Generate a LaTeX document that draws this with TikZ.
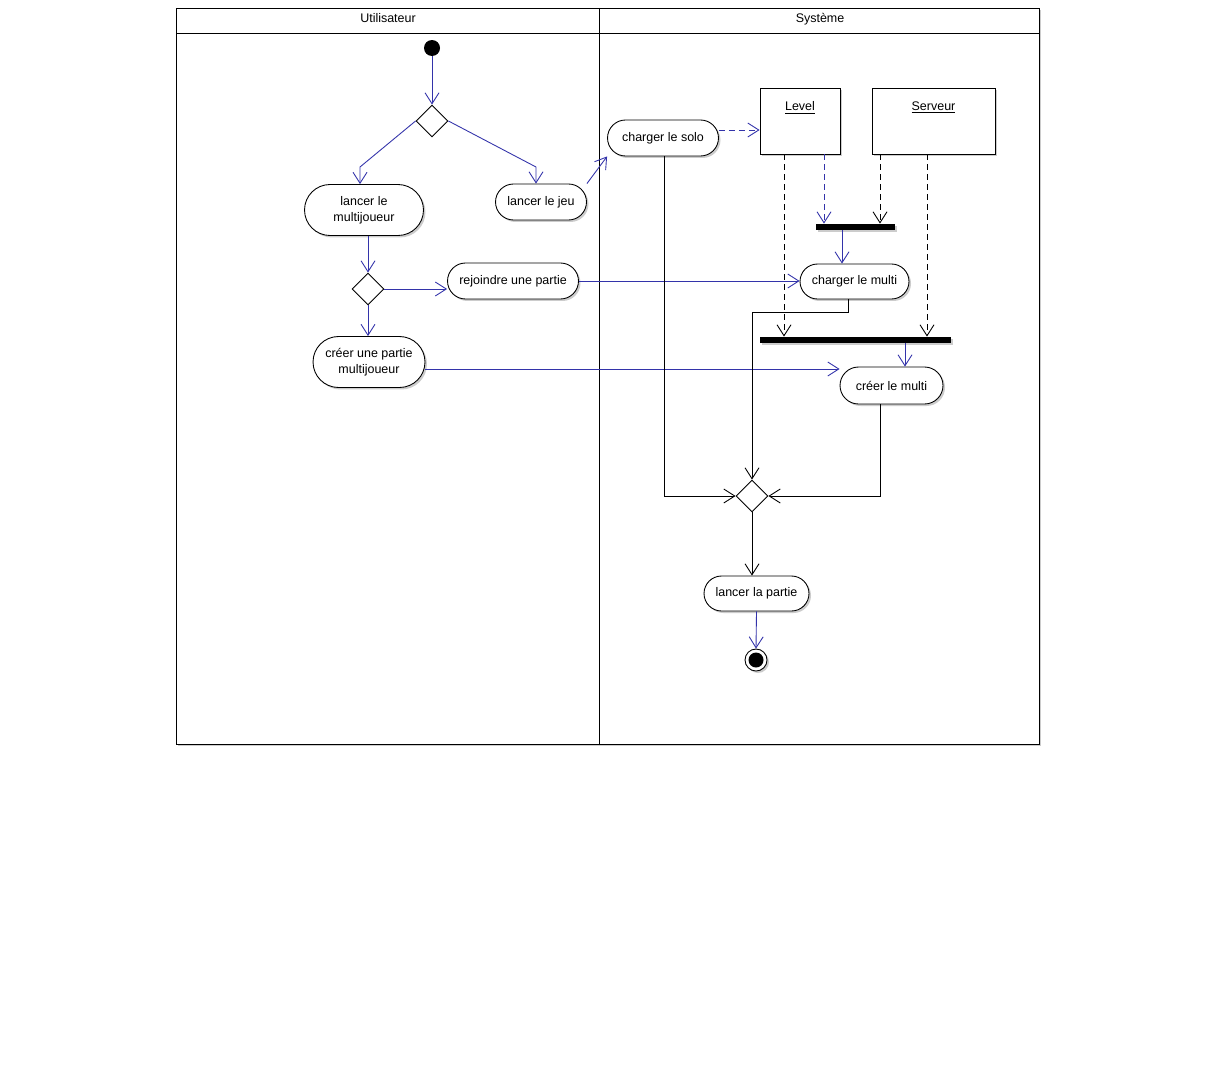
\documentclass[tikz,border=0pt]{standalone}
\usepackage{fontspec}
\setmainfont{Liberation Sans}
\usetikzlibrary{arrows.meta,shapes.geometric,shapes.misc,shadows}
\definecolor{flowblue}{RGB}{51,51,170}

\begin{document}
\begin{tikzpicture}[x=0.02cm, y=-0.02cm, line width=0.5pt,
    font=\fontsize{7.1}{9}\selectfont,
    boxshadow/.style={drop shadow={shadow xshift=0.04cm, shadow yshift=-0.04cm, fill=black!20, opacity=1}},
    act/.style={rounded rectangle, draw, fill=white, align=center, inner sep=0pt, boxshadow},
    obj/.style={draw, fill=white, inner sep=0pt, boxshadow},
    bar/.style={fill=black, inner sep=0pt, minimum height=0.12cm, boxshadow},
    decision/.style={diamond, draw, fill=white, inner sep=0pt, minimum size=0.64cm},
    flow/.style={draw=flowblue, -{Straight Barb[length=0.22cm,width=0.28cm]}},
    ctrl/.style={draw=black, -{Straight Barb[length=0.22cm,width=0.28cm]}},
    dep/.style={dash pattern=on 0.12cm off 0.08cm}]
    \useasboundingbox (0,0) rectangle (1216,1088);
    % swimlanes
    \filldraw [fill=white, boxshadow] (176,8) rectangle (1039,744);
    \draw (176,33)--(1039,33);
    \draw (599,8)--(599,744);
    \node [anchor=base] (user) at (388,23) {Utilisateur};
    \node [anchor=base] (sys) at (820,23) {Système};
    %
    \node [circle, fill=black, inner sep=0pt, minimum size=0.32cm] (start) at (432,48) {};
    \node [decision] (dec1) at (432,121) {};
    \node [act, minimum width=2.38cm, minimum height=1.02cm] (multi) at (364,210) {lancer le\\multijoueur};
    \node [act, minimum width=1.82cm, minimum height=0.72cm] (jeu) at (541,202) {lancer le jeu};
    \node [decision] (dec2) at (368,289) {};
    \node [act, minimum width=2.62cm, minimum height=0.72cm] (rejoindre) at (513,281) {rejoindre une partie};
    \node [act, minimum width=2.24cm, minimum height=1.02cm] (cpartie) at (369,362) {créer une partie\\multijoueur};
    \node [act, minimum width=2.22cm, minimum height=0.72cm] (solo) at (663,138) {charger le solo};
    \node [obj, minimum width=1.6cm, minimum height=1.32cm, label={[anchor=north, yshift=-0.15cm]north:\underline{Level}}] (level) at (800,121) {};
    \node [obj, minimum width=2.46cm, minimum height=1.32cm, label={[anchor=north, yshift=-0.15cm]north:\underline{Serveur}}] (serveur) at (933.5,121) {};
    \node [bar, minimum width=1.58cm] (bar1) at (855.5,227) {};
    \node [act, minimum width=2.18cm, minimum height=0.70cm] (cmulti) at (854.5,281.5) {charger le multi};
    \node [bar, minimum width=3.82cm] (bar2) at (855.5,340) {};
    \node [act, minimum width=2.06cm, minimum height=0.74cm] (cremulti) at (891.5,385.5) {créer le multi};
    \node [decision] (merge) at (752,496) {};
    \node [act, minimum width=2.10cm, minimum height=0.70cm] (lpartie) at (756.5,593.5) {lancer la partie};
    \node [circle, draw, fill=white, inner sep=0pt, minimum size=0.44cm, boxshadow] (end) at (756,660) {};
    \fill (end.center) circle (0.15cm);
    %
    \draw [flow] (start) -- (dec1.north);
    \draw [flow] (dec1.west) -- (360,167) -- (multi.north -| 360,0);
    \draw [flow] (dec1.east) -- (536,167) -- (jeu.north -| 536,0);
    \draw [flow] (jeu.east |- jeu.north) -- (solo.west |- solo.south);
    \draw [flow, dep] (solo.east |- 0,130) -- (level.west |- 0,130);
    \draw [ctrl, dep] (level.south -| 784,0) -- (bar2.north -| 784,0);
    \draw [flow, dep] (level.south -| 824,0) -- (bar1.north -| 824,0);
    \draw [ctrl, dep] (serveur.south -| 880,0) -- (bar1.north -| 880,0);
    \draw [ctrl, dep] (serveur.south -| 927,0) -- (bar2.north -| 927,0);
    \draw [flow] (bar1.south -| 842,0) -- (cmulti.north -| 842,0);
    \draw [flow] (multi.south -| dec2) -- (dec2.north);
    \draw [flow] (dec2.east) -- (rejoindre.west |- dec2.east);
    \draw [flow] (rejoindre.east) -- (cmulti.west |- rejoindre.east);
    \draw [flow] (dec2.south) -- (cpartie.north -| dec2);
    \draw [flow] (cpartie.east |- 0,369) -- (cremulti.west |- 0,369);
    \draw [flow] (bar2.south -| 905,0) -- (cremulti.north -| 905,0);
    \draw [ctrl] (cmulti.south -| 848,0) -- (848,312) -| (merge.north);
    \draw [ctrl] (solo.south -| 664,0) |- (merge.west);
    \draw [ctrl] (cremulti.south -| 880,0) |- (merge.east);
    \draw [ctrl] (merge.south) -- (lpartie.north -| merge);
    \draw [flow] (lpartie.south) -- (end.north);
\end{tikzpicture}
\end{document}
